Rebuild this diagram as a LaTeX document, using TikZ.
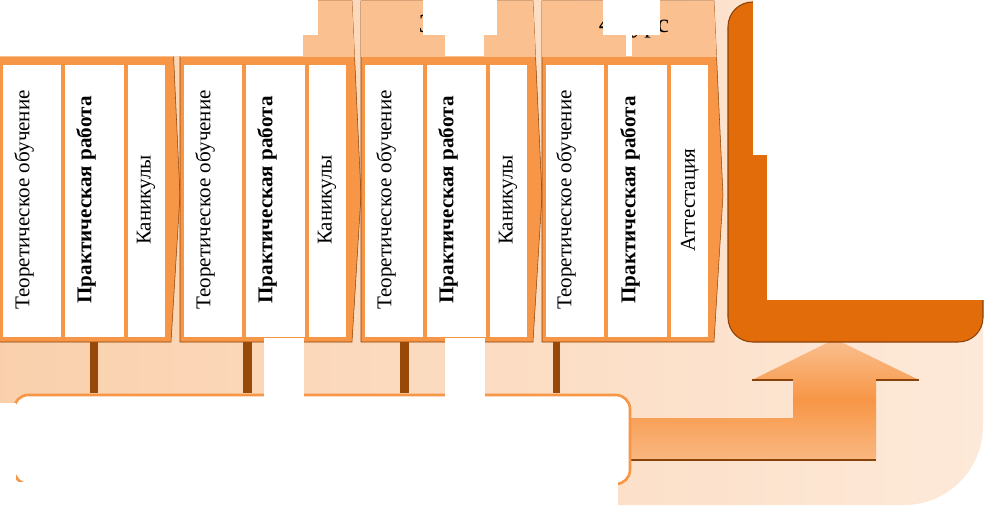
\documentclass[tikz,border=0pt]{standalone}
\usepackage{fontspec}
\setmainfont{Liberation Serif}
\usepackage{tikz}
\usetikzlibrary{positioning}
\definecolor{panelpeach}{HTML}{FDE9D9}
\definecolor{panelpeachdk}{HTML}{FAD0AC}
\definecolor{frameorange}{HTML}{F79646}
\definecolor{tablight}{HTML}{FAC090}
\definecolor{lorange}{HTML}{E36C0A}
\definecolor{tickbrown}{HTML}{984807}
\definecolor{edgebrown}{HTML}{8A4208}

\begin{document}
\begin{tikzpicture}[x=0.02cm, y=-0.02cm,
		frame/.style={fill=frameorange, draw=edgebrown, line width=0.3pt},
		tab/.style={fill=tablight},
		col/.style={fill=white},
		lbl/.style={rotate=90, inner sep=0pt, font=\fontsize{12}{14}\selectfont},
		lblbf/.style={lbl, font=\fontsize{12}{14}\selectfont\bfseries},
		head/.style={inner sep=0pt, font=\fontsize{15}{17}\selectfont},
		tick/.style={fill=tickbrown},
		cover/.style={fill=white}
	]
		\useasboundingbox (0,0) rectangle (985,510);

		% background panel
		\shade[left color=panelpeachdk, right color=panelpeach, rounded corners=45]
			(-5,0) -- (983,0) -- (983,505) -- (-5,505) -- cycle;

		% course blocks
		\foreach \x in {-1,180,361,542}{
			\filldraw[frame] (\x,1) -- ++(172,0) -- ++(9,194) -- ++(-9,147) -- (\x,342) -- cycle;
			\fill[tab] (\x,1) -- ++(172,0) -- ++(2.6,56) -- (\x,57) -- cycle;
			\fill[col] (\x+4,65) rectangle (\x+62,337);
			\fill[col] (\x+66,65) rectangle (\x+125,337);
			\fill[col] (\x+129,65) rectangle (\x+166,337);
		}

		\node[lbl] (theory1) at (24,200) {Теоретическое обучение};
		\node[lblbf] (practice1) at (86,200) {Практическая работа};
		\node[lbl] (holiday1) at (146,200) {Каникулы};
		\node[lbl] (theory2) at (205,200) {Теоретическое обучение};
		\node[lblbf] (practice2) at (267,200) {Практическая работа};
		\node[lbl] (holiday2) at (327,200) {Каникулы};
		\node[lbl] (theory3) at (386,200) {Теоретическое обучение};
		\node[lblbf] (practice3) at (448,200) {Практическая работа};
		\node[lbl] (holiday3) at (508,200) {Каникулы};
		\node[lbl] (theory4) at (566,200) {Теоретическое обучение};
		\node[lblbf] (practice4) at (630,200) {Практическая работа};
		\node[lbl] (exam4) at (690,200) {Аттестация};

		\node[head] (course3) at (454,27) {3 курс};
		\node[head] (course4) at (634,27) {4 курс};

		% ticks on the band
		\fill[tick] (90,342) rectangle (98,393);
		\fill[tick] (243,342) rectangle (252,393);
		\fill[tick] (400,342) rectangle (409,393);
		\fill[tick] (553,342) rectangle (560,393);

		% bent arrow
		\shade[top color=tablight, bottom color=tablight!80!frameorange, middle color=frameorange]
			(630,418) -- (793,418) -- (793,380) -- (752,380) -- (835,339)
			-- (919,380) -- (876,380) -- (876,460) -- (630,460) -- cycle;
		\draw[edgebrown, line width=1pt] (630,460) -- (876,460);
		\draw[edgebrown, line width=0.8pt] (752,380) -- (793,380) (876,380) -- (919,380);

		% result box
		\filldraw[fill=lorange, draw=edgebrown, line width=0.6pt, rounded corners=14]
			(728,2) rectangle (983,342);

		% white gaps
		\fill[cover] (-10,-10) rectangle (303,56);
		\fill[cover] (303,-10) rectangle (318,35);
		\fill[cover] (423,-10) rectangle (497,35);
		\fill[cover] (445,35) rectangle (484,56);
		\fill[cover] (603,-10) rectangle (660,35);
		\fill[cover] (626,35) rectangle (632,56);
		\fill[cover] (753,-10) rectangle (995,155);
		\fill[cover] (767,155) rectangle (995,300);

		\filldraw[fill=white, draw=frameorange, line width=1.5pt, rounded corners=8]
			(14,395) rectangle (630,484);
		\fill[cover] (-10,403) rectangle (15.5,520);
		\fill[cover] (-10,482) rectangle (618,520);
		\fill[cover] (264,337.5) rectangle (304,400);
		\fill[cover] (445,337.5) rectangle (485,400);
	\end{tikzpicture}
\end{document}
